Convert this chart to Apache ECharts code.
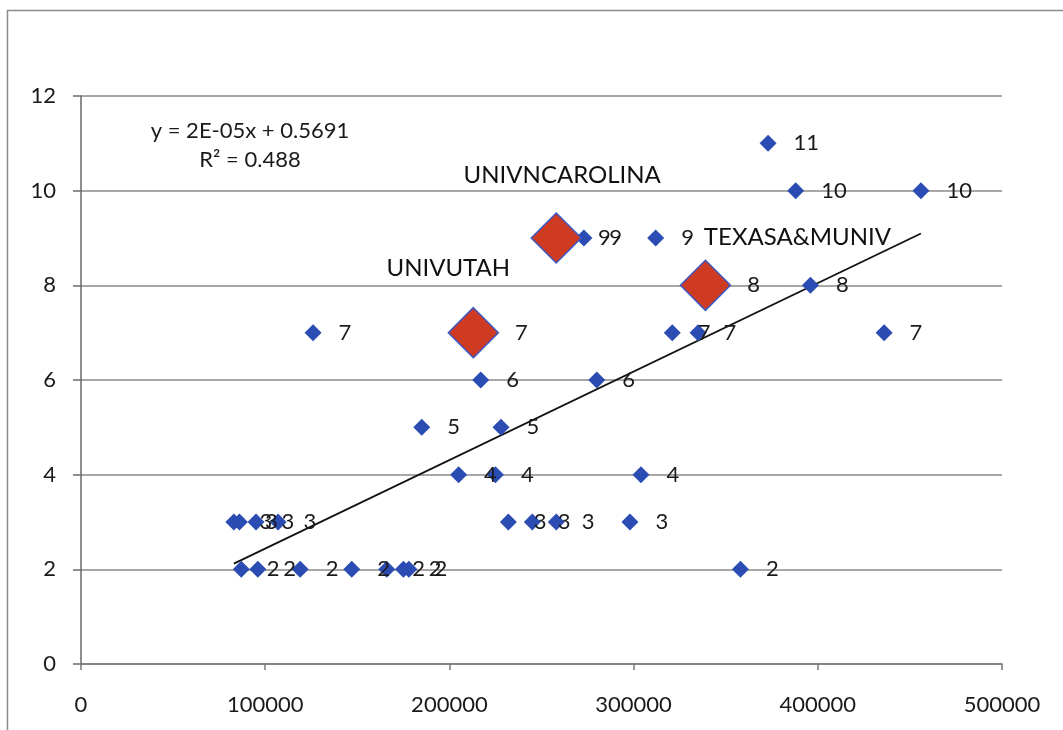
<!DOCTYPE html>
<html>
<head>
<meta charset="utf-8">
<script src="https://cdn.jsdelivr.net/npm/echarts@6/dist/echarts.min.js"></script>
<style>
html,body{margin:0;padding:0;background:#fff;}
#chart{width:1063px;height:730px;}
</style>
</head>
<body>
<div id="chart"></div>
<script>
// ---- data ----
var blueX = [373000, 388000, 456000, 273000, 312000, 396000,
             126000, 321000, 335000, 436000, 217000, 280000,
             185000, 228000, 205000, 225000, 304000,
             83000, 86000, 95000, 107000, 232000, 245000, 258000, 298000,
             87000, 96000, 119000, 147000, 166000, 175000, 178000, 358000];
var blueY = [11, 10, 10, 9, 9, 8,
             7, 7, 7, 7, 6, 6,
             5, 5, 4, 4, 4,
             3, 3, 3, 3, 3, 3, 3, 3,
             2, 2, 2, 2, 2, 2, 2, 2];
var redX = [258000, 213000, 339000];
var redY = [9, 7, 8];
var redNames = ['UNIVNCAROLINA', 'UNIVUTAH', 'TEXASA&MUNIV'];
var trendSlope = 1.87e-5;
var trendIntercept = 0.5691;
var equationLines = ['y = 2E-05x + 0.5691', 'R\u00b2 = 0.488'];
var xTicks = [0, 100000, 200000, 300000, 400000, 500000];
var yTicks = [0, 2, 4, 6, 8, 10, 12];

// ---- styles ----
var FONT = 'Lato';
var nameOffsets = [[6, -63], [-25, -64], [92, -48]];

var blueData = blueX.map(function (x, i) { return [x, blueY[i]]; });
var redData = redX.map(function (x, i) { return [x, redY[i]]; });
var redNameData = redX.map(function (x, i) {
  return { value: [x, redY[i]], name: redNames[i],
           label: { offset: nameOffsets[i] } };
});
var allX = blueX.concat(redX);
var minX = Math.min.apply(null, allX), maxX = Math.max.apply(null, allX);
var trendData = [[minX, trendSlope * minX + trendIntercept],
                 [maxX, trendSlope * maxX + trendIntercept]];

var chart = echarts.init(document.getElementById('chart'));
chart.setOption({
  animation: false,
  backgroundColor: '#fff',
  textStyle: { fontFamily: FONT },
  grid: { left: 81, right: 61, top: 96, bottom: 66 },
  xAxis: {
    type: 'value', min: xTicks[0], max: xTicks[xTicks.length - 1], interval: 100000,
    axisLine: { show: true, lineStyle: { color: '#7a7a7a', width: 1.5 } },
    axisTick: { show: true, length: 6, lineStyle: { color: '#7a7a7a', width: 1.5 } },
    splitLine: { show: false },
    axisLabel: { margin: 30, fontSize: 22, color: '#1a1a1a', fontFamily: FONT,
                 formatter: function (v) { return String(v); } }
  },
  yAxis: {
    type: 'value', min: yTicks[0], max: yTicks[yTicks.length - 1], interval: 2,
    axisLine: { show: true, lineStyle: { color: '#6a6a6a', width: 1.5 } },
    axisTick: { show: true, length: 8, lineStyle: { color: '#6a6a6a', width: 1.5 } },
    splitLine: { show: true, lineStyle: { color: '#8a8a8a', width: 1.5 } },
    axisLabel: { margin: 25, fontSize: 22, color: '#1a1a1a', fontFamily: FONT }
  },
  graphic: [
    { type: 'rect', shape: { x: 7.5, y: 10.5, width: 1200, height: 900 },
      style: { fill: 'none', stroke: '#8a8a8a', lineWidth: 1.5 }, silent: true, z: -1 },
    { type: 'text', x: 250, y: 131,
      style: { text: equationLines[0], fontSize: 22, fontFamily: FONT, fill: '#1a1a1a',
               textAlign: 'center', textVerticalAlign: 'middle' } },
    { type: 'text', x: 250, y: 160,
      style: { text: equationLines[1], fontSize: 22, fontFamily: FONT, fill: '#1a1a1a',
               textAlign: 'center', textVerticalAlign: 'middle' } }
  ],
  series: [
    {
      type: 'line', data: trendData, symbol: 'none', silent: true, z: 3,
      lineStyle: { color: '#111', width: 1.8 }
    },
    {
      type: 'scatter', data: blueData, symbol: 'diamond', symbolSize: 17, z: 4,
      itemStyle: { color: '#2b4cb3', opacity: 1 },
      label: { show: true, position: 'right', distance: 17, fontSize: 22, color: '#1a1a1a',
               fontFamily: FONT, formatter: function (p) { return p.value[1]; } }
    },
    {
      type: 'scatter', data: redData, symbol: 'diamond', symbolSize: 50, z: 5,
      itemStyle: { color: '#cf3b22', borderColor: '#3b57c4', borderWidth: 1.5, opacity: 1 },
      label: { show: true, position: 'right', distance: 16, fontSize: 22, color: '#1a1a1a',
               fontFamily: FONT, formatter: function (p) { return p.value[1]; } }
    },
    {
      type: 'scatter', data: redNameData, symbol: 'circle', symbolSize: 2, silent: true, z: 6,
      itemStyle: { color: '#ffffff', opacity: 0 },
      label: { show: true, position: 'inside', fontSize: 24, color: '#111111', opacity: 1,
               fontFamily: FONT, formatter: function (p) { return p.name; } }
    }
  ]
});
</script>
</body>
</html>
